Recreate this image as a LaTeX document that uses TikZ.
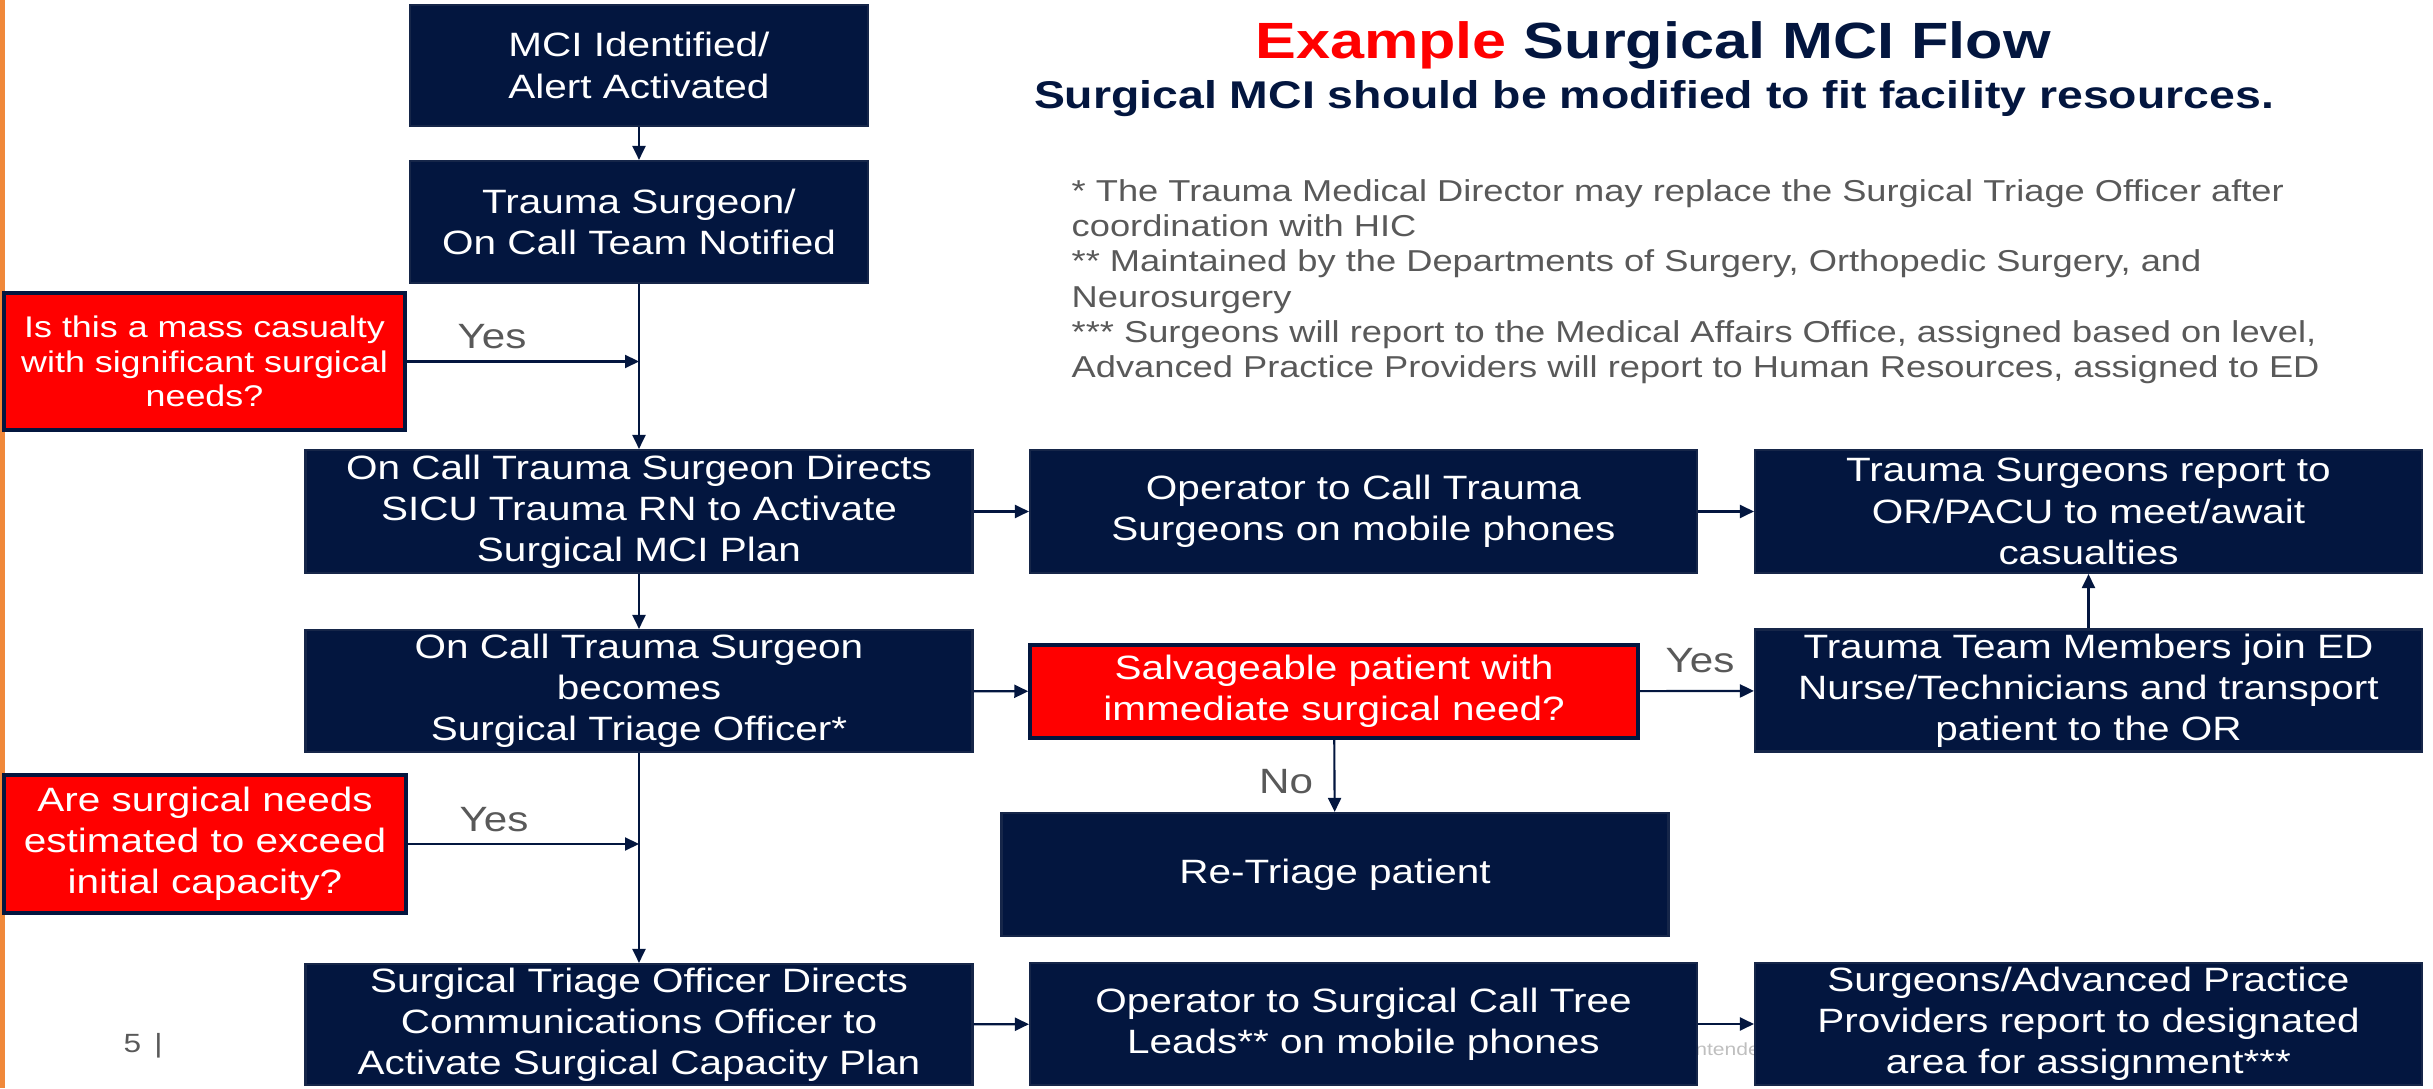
\documentclass[tikz,border=0pt]{standalone}
\usepackage{fontspec}
\setmainfont[FakeStretch=1.2]{Liberation Sans}
\usetikzlibrary{arrows.meta}
\definecolor{mcinavy}{HTML}{03163F}
\definecolor{mcired}{HTML}{FF0000}
\definecolor{notegrey}{HTML}{595959}
\definecolor{slideorange}{HTML}{F0883A}

\begin{document}
\begin{tikzpicture}
  [box/.style={rectangle,fill=mcinavy,draw=mcinavy!85!gray,line width=0.6pt,text=white,align=center,
     inner sep=0pt,minimum width=6.67cm,minimum height=1.22cm,font=\fontsize{9.6}{11.7}\selectfont},
   askbox/.style={box,fill=mcired,draw=mcinavy,line width=1pt},
   answer/.style={text=notegrey,font=\fontsize{10}{12}\selectfont},
   flow/.style={draw=mcinavy,line width=0.6pt,-{Triangle[length=1.4mm,width=1.3mm]}}]
  \useasboundingbox (0,0) rectangle (24.33,10.88);
  \fill[slideorange] (0,0) rectangle (0.05,10.88);

  % heading and notes
  \node (title) at (16.53,10.43) {\fontsize{14.5}{17}\selectfont\bfseries
    \textcolor{mcired}{Example} \textcolor{mcinavy}{Surgical MCI Flow}};
  \node (subtitle) at (16.54,9.89) [text=mcinavy,font=\fontsize{11}{13}\selectfont\bfseries]
    {Surgical MCI should be modified to fit facility resources.};
  \node (notes) at (10.71,9.09) [anchor=north west,inner sep=0pt,align=left,text=notegrey,
    font=\fontsize{8.6}{10}\selectfont]
    {* The Trauma Medical Director may replace the Surgical Triage Officer after\\
     coordination with HIC\\
     ** Maintained by the Departments of Surgery, Orthopedic Surgery, and\\
     Neurosurgery\\
     *** Surgeons will report to the Medical Affairs Office, assigned based on level,\\
     Advanced Practice Providers will report to Human Resources, assigned to ED};
  \node (page) at (1.43,0.42) [text=notegrey,font=\fontsize{7.5}{9}\selectfont] {5\enspace|};
  \node (cutoff) at (16.90,0.39) [anchor=west,inner sep=0pt,text=gray!50,font=\fontsize{5}{6}\selectfont] {intended};

  % left column
  \node[box,minimum width=4.58cm,minimum height=1.21cm] (alert) at (6.39,10.225) {MCI Identified/\\Alert Activated};
  \node[box,minimum width=4.58cm] (notify) at (6.39,8.66) {Trauma Surgeon/\\On Call Team Notified};
  \node[askbox,minimum width=4.01cm,minimum height=1.37cm,font=\fontsize{8.5}{9.9}\selectfont] (askmass) at (2.045,7.265)
    {Is this a mass casualty\\with significant surgical\\needs?};
  \node[box,minimum height=1.23cm] (directs) at (6.39,5.765) {On Call Trauma Surgeon Directs\\SICU Trauma RN to Activate\\Surgical MCI Plan};
  \node[box] (becomes) at (6.39,3.97) {On Call Trauma Surgeon\\becomes\\Surgical Triage Officer*};
  \node[askbox,minimum width=4.02cm,minimum height=1.38cm] (askcap) at (2.05,2.44)
    {Are surgical needs\\estimated to exceed\\initial capacity?};
  \node[box,minimum height=1.21cm] (capacity) at (6.39,0.635) {Surgical Triage Officer Directs\\Communications Officer to\\Activate Surgical Capacity Plan};

  % middle column
  \node[box,minimum height=1.23cm] (operator) at (13.635,5.765) {Operator to Call Trauma\\Surgeons on mobile phones};
  \node[askbox,minimum width=6.08cm,minimum height=0.93cm] (salvage) at (13.34,3.965) {Salvageable patient with\\immediate surgical need?};
  \node[box,minimum height=1.23cm] (retriage) at (13.35,2.135) {Re-Triage patient};
  \node[box] (treeleads) at (13.635,0.64) {Operator to Surgical Call Tree\\Leads** on mobile phones};

  % right column
  \node[box,minimum height=1.23cm] (report) at (20.885,5.765) {Trauma Surgeons report to\\OR/PACU to meet/await\\casualties};
  \node[box] (teamjoin) at (20.885,3.975) {Trauma Team Members join ED\\Nurse/Technicians and transport\\patient to the OR};
  \node[box] (assign) at (20.885,0.64) {Surgeons/Advanced Practice\\Providers report to designated\\area for assignment***};

  \foreach \from/\to in {alert/notify,notify/directs,directs/becomes,becomes/capacity,
      directs/operator,operator/report,becomes/salvage,salvage/teamjoin,teamjoin/report,
      salvage/retriage,capacity/treeleads,treeleads/assign}
    \draw[flow] (\from) -- (\to);
  \draw[flow] (askmass.east) -- (askmass.east -| notify.south);
  \draw[flow] (askcap.east) -- (askcap.east -| becomes.south);

  \node[answer] (yesmass) at (4.92,7.51) {Yes};
  \node[answer] (yescap) at (4.94,2.68) {Yes};
  \node[answer] (yessalv) at (17.0,4.27) {Yes};
  \node[answer] (nosalv) at (12.86,3.06) {No};
\end{tikzpicture}
\end{document}
